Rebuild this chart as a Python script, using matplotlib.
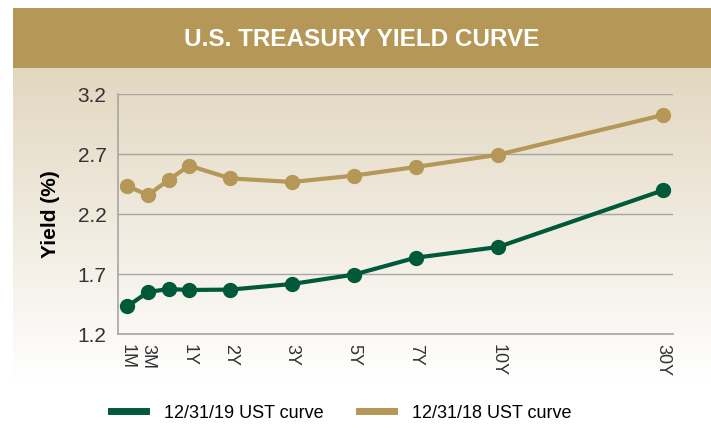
import matplotlib.pyplot as plt
import numpy as np
from matplotlib.lines import Line2D
from matplotlib.patches import Rectangle

plt.rcParams['font.family'] = ['Liberation Sans Narrow', 'Liberation Sans', 'DejaVu Sans']

# data
maturity = ['1M', '3M', '6M', '1Y', '2Y', '3Y', '5Y', '7Y', '10Y', '30Y']
slot = [0, 1, 2, 3, 5, 8, 11, 14, 18, 26]  # category slots along the axis
tick_text = ['1M', '3M', '', '1Y', '2Y', '3Y', '5Y', '7Y', '10Y', '30Y']
ust_2019 = [1.43, 1.55, 1.575, 1.567, 1.57, 1.617, 1.695, 1.836, 1.925, 2.397]
ust_2018 = [2.433, 2.358, 2.483, 2.603, 2.497, 2.467, 2.52, 2.592, 2.694, 3.025]
y_ticks = [1.2, 1.7, 2.2, 2.7, 3.2]

green = '#005a3a'
gold = '#b59757'

fig = plt.figure(figsize=(7.11, 4.28), dpi=100)

# background: gold banner + cream-to-white gradient panel
bg = fig.add_axes([0, 0, 1, 1], zorder=-10)
bg.set_xlim(0, 711)
bg.set_ylim(428, 0)
bg.axis('off')
grad = np.linspace(0, 1, 256).reshape(-1, 1)
top = np.array([0.886, 0.843, 0.753])
rgb = top + (1 - top) * np.clip(grad * 1.15, 0, 1)
img = np.repeat(rgb[:, None, :], 2, axis=1).reshape(256, 2, 3)
bg.imshow(img, extent=(13, 711, 428, 68), aspect='auto', interpolation='bilinear')
bg.add_patch(Rectangle((13, 8), 698, 60, color=gold, lw=0))
bg.text(362, 39, 'U.S. TREASURY YIELD CURVE', color='white', fontsize=17.5,
        fontweight='bold', ha='center', va='center')

ax = fig.add_axes([0.1655, 0.2196, 0.7806, 0.5607])
ax.patch.set_alpha(0)
ax.plot(slot, ust_2018, color=gold, lw=3, marker='o', ms=10, zorder=3)
ax.plot(slot, ust_2019, color=green, lw=3, marker='o', ms=10, zorder=3)

ax.set_xlim(-0.47, 26.48)
ax.set_ylim(1.2, 3.2)
ax.set_yticks(y_ticks)
ax.set_yticklabels([f'{v:.1f}' for v in y_ticks], fontsize=15, color='#333333')
ax.set_xticks(slot)
ax.set_xticklabels(tick_text, rotation=-90, fontsize=13, color='#333333')
ax.tick_params(length=0)
ax.tick_params(axis='x', pad=7)
ax.tick_params(axis='y', pad=8)
ax.grid(axis='y', color='#a6a6a6', lw=1)
for s in ['top', 'right']:
    ax.spines[s].set_visible(False)
for s in ['left', 'bottom']:
    ax.spines[s].set_color('#a6a6a6')
    ax.spines[s].set_linewidth(1.2)
ax.set_ylabel('Yield (%)', fontsize=15, fontweight='bold', family=['Liberation Sans', 'DejaVu Sans'],
              labelpad=13)

handles = [Line2D([], [], color=green, lw=5), Line2D([], [], color=gold, lw=5)]
fig.legend(handles, ['12/31/19 UST curve', '12/31/18 UST curve'], loc='center',
           bbox_to_anchor=(0.48, 0.035), ncol=2, frameon=False, fontsize=13,
           handlelength=1.9, columnspacing=2.0, handletextpad=1.0)

fig.savefig('out.png', dpi=100)
